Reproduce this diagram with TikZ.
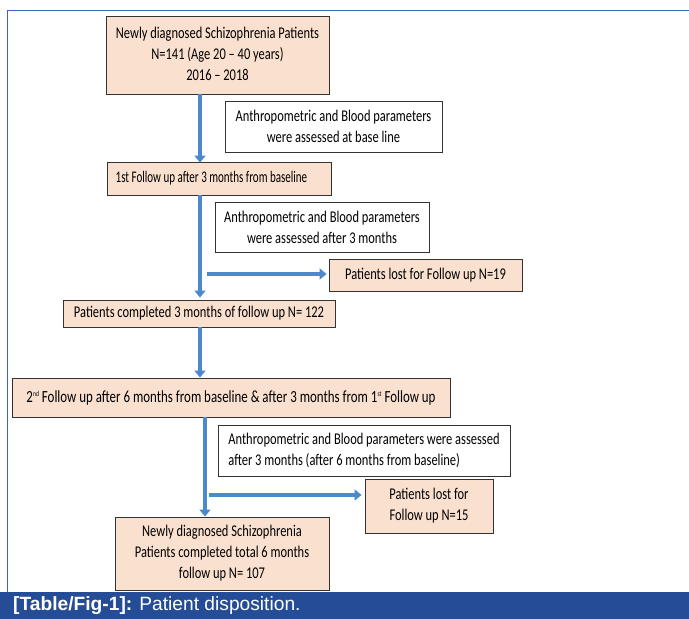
\documentclass[tikz,border=0pt]{standalone}
\usepackage{fontspec}
\setmainfont{Carlito}[FakeStretch=0.76]
\newfontfamily\narrowfont{Carlito}[FakeStretch=0.68]
\newfontfamily\capfont{Liberation Sans}
\usetikzlibrary{arrows.meta,calc}
\definecolor{peach}{HTML}{F9E0CF}
\definecolor{arrowblue}{HTML}{4C89CA}
\definecolor{barblue}{HTML}{244C97}
\definecolor{frameblue}{HTML}{3A66BE}
\newcommand{\supx}[1]{\raisebox{6pt}{\fontsize{7.5}{8}\selectfont #1}}
\begin{document}
\begin{tikzpicture}[x=1pt,y=-1pt,
  pbox/.style={draw=black!80, line width=0.9pt, fill=peach, align=center, inner sep=2pt, font=\fontsize{16.4}{21}\selectfont},
  wbox/.style={draw=black!80, line width=0.9pt, fill=white, align=center, inner sep=2pt, font=\fontsize{16.4}{21}\selectfont},
  flow/.style={draw=arrowblue, line width=4.5pt, -{Triangle[length=7pt,width=11pt]}},
  ]
\useasboundingbox (0,0) rectangle (689,619);
\fill[white] (0,0) rectangle (689,619);
% frame
\draw[frameblue, line width=1.3pt] (7.5,592) -- (7.5,10.5) -- (689,10.5);
% caption bar
\fill[barblue] (0,592) rectangle (689,619);
\node[anchor=west, text=white, font=\capfont\fontsize{19.2}{20}\selectfont, inner sep=0pt] (cap) at (13,606) {\textbf{[Table/Fig-1]:} Patient disposition.};

\node[pbox, minimum width=223pt, minimum height=78pt] (b1) at (217.5,55) {Newly diagnosed Schizophrenia Patients\\N=141 (Age 20 -- 40 years)\\2016 -- 2018\vspace{2pt}};
\node[wbox, minimum width=217pt, minimum height=51pt] (b2) at (333.5,126.5) {Anthropometric and Blood parameters\\were assessed at base line};
\node[pbox, minimum width=224pt, minimum height=33pt, font=\narrowfont\fontsize{16.2}{20}\selectfont] (b3) at (219,178.5) {1st Follow up after 3 months from baseline\hspace{15pt}};
\node[wbox, minimum width=214pt, minimum height=50pt] (b4) at (322,227) {Anthropometric and Blood parameters\\were assessed after 3 months};
\node[pbox, minimum width=193pt, minimum height=32pt] (b5) at (425.5,275) {Patients lost for Follow up N=19};
\node[pbox, minimum width=272pt, minimum height=27pt] (b6) at (199,313.5) {Patients completed 3 months of follow up N= 122};
\node[pbox, minimum width=438pt, minimum height=39pt, font=\fontsize{17}{21}\selectfont] (b7) at (231,397.5) {2\supx{nd} Follow up after 6 months from baseline \& after 3 months from 1\supx{st} Follow up};
\node[wbox, minimum width=292pt, minimum height=51pt, align=left] (b8) at (364,450.5) {Anthropometric and Blood parameters were assessed\\after 3 months (after 6 months from baseline)};
\node[pbox, minimum width=128pt, minimum height=54pt] (b9) at (429,506) {Patients lost for\\Follow up N=15};
\node[pbox, minimum width=214pt, minimum height=73pt] (b10) at (222,553.5) {Newly diagnosed Schizophrenia\\Patients completed total 6 months\\follow up N= 107};

\coordinate (xa) at (200,0);
\coordinate (xb) at (205,0);
\coordinate (h1) at (207,274);
\coordinate (h2) at (209,495);

\draw[flow] (xa |- b1.south) -- ($(xa |- b3.north)+(0,1)$);
\draw[flow] (xa |- b3.south) -- ($(xa |- b6.north)+(0,-2)$);
\draw[flow] (h1) -- ($(h1 -| b5.west)+(-2,0)$);
\draw[flow] (xa |- b6.south) -- (xa |- b7.north);
\draw[flow] (xb |- b7.south) -- (xb |- b10.north);
\draw[flow] (h2) -- ($(h2 -| b9.west)+(-3,0)$);
\end{tikzpicture}
\end{document}
